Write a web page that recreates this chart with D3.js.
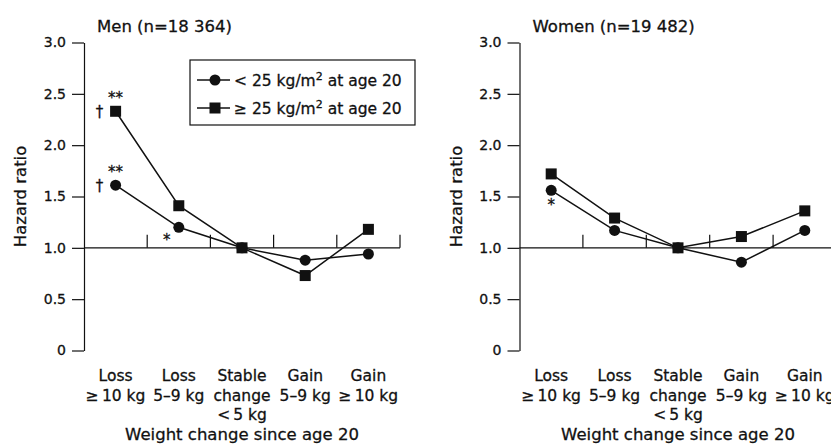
<!DOCTYPE html>
<html>
<head>
<meta charset="utf-8">
<script src="https://cdn.jsdelivr.net/npm/d3@7"></script>
<style>
  body { margin: 0; background: #fff; }
  svg text { font-family: "DejaVu Sans", sans-serif; fill: #111; stroke: #111; stroke-width: 0.3px; }
</style>
</head>
<body>
<script>
// categories along the x axis (one entry per band, lines of the label)
const categories = ['loss10', 'loss5', 'stable', 'gain5', 'gain10'];
const categoryLabels = [
  ['Loss', '\u2265\u200910 kg'],
  ['Loss', '5\u20139 kg'],
  ['Stable', 'change', '<\u20095 kg'],
  ['Gain', '5\u20139 kg'],
  ['Gain', '\u2265\u200910 kg']
];
const yTicks = [0, 0.5, 1.0, 1.5, 2.0, 2.5, 3.0];

// hazard ratios
const menLean = [1.61, 1.20, 1.0, 0.88, 0.94];
const menHeavy = [2.33, 1.41, 1.0, 0.73, 1.18];
const womenLean = [1.56, 1.17, 1.0, 0.86, 1.17];
const womenHeavy = [1.72, 1.29, 1.0, 1.11, 1.36];

// significance marks: [category index, series, symbol, where]
const menMarks = [[0, 'heavy', '**', 'above'], [0, 'heavy', '\u2020', 'left'],
                  [0, 'lean', '**', 'above'], [0, 'lean', '\u2020', 'left'],
                  [1, 'lean', '*', 'belowleft']];
const womenMarks = [[0, 'lean', '*', 'below']];

const width = 831, height = 448;

const svg = d3.select('body').append('svg')
    .attr('width', width)
    .attr('height', height);

const y = d3.scaleLinear().domain([0, 3]).range([350.5, 42.5]);

function panel(title, x0, x1, lean, heavy, marks, showLegend) {
  const x = d3.scaleBand().domain(categories).range([x0, x1]);
  const g = svg.append('g');

  // y axis
  g.append('g')
      .attr('transform', `translate(${x0},0)`)
      .call(d3.axisLeft(y).tickValues(yTicks).tickSize(12).tickSizeOuter(0).tickPadding(6)
        .tickFormat(d => d === 0 ? '0' : d3.format('.1f')(d)))
      .call(a => a.selectAll('text').attr('font-size', 14).attr('font-family', '"DejaVu Sans", sans-serif'))
      .call(a => a.selectAll('line, path').attr('stroke', '#111').attr('stroke-width', 1.2));

  // reference line at 1.0 with band separators
  g.append('line')
      .attr('x1', x0).attr('x2', x1)
      .attr('y1', y(1)).attr('y2', y(1))
      .attr('stroke', '#111').attr('stroke-width', 1.2);
  g.selectAll('.sep')
    .data(categories)
    .enter().append('line')
      .attr('x1', d => x(d) + x.bandwidth()).attr('x2', d => x(d) + x.bandwidth())
      .attr('y1', y(1)).attr('y2', y(1) - 13)
      .attr('stroke', '#111').attr('stroke-width', 1.2);

  // category labels
  const lab = g.append('g').attr('font-size', 15.5).attr('text-anchor', 'middle');
  categories.forEach((c, i) => {
    const t = lab.append('text').attr('x', x(c) + x.bandwidth() / 2).attr('y', 381);
    categoryLabels[i].forEach((s, j) => {
      t.append('tspan').attr('x', x(c) + x.bandwidth() / 2).attr('dy', j === 0 ? 0 : 19.5).text(s);
    });
  });

  g.append('text')
      .attr('x', (x0 + x1) / 2).attr('y', 440)
      .attr('text-anchor', 'middle').attr('font-size', 16.5)
      .text('Weight change since age 20');

  g.append('text')
      .attr('transform', `translate(${x0 - 58},${y(1.5)}) rotate(-90)`)
      .attr('text-anchor', 'middle').attr('font-size', 16.5)
      .text('Hazard ratio');

  g.append('text')
      .attr('x', x0 + 13).attr('y', 32)
      .attr('font-size', 16.5)
      .text(title);

  const cx = d => x(d) + x.bandwidth() / 2;
  const line = d3.line().x(d => cx(d.c)).y(d => y(d.v));
  const rows = s => categories.map((c, i) => ({c: c, v: s[i]}));

  [lean, heavy].forEach(s => {
    g.append('path')
        .datum(rows(s))
        .attr('d', line)
        .attr('fill', 'none')
        .attr('stroke', '#111')
        .attr('stroke-width', 1.5);
  });

  g.selectAll('.sq')
    .data(rows(heavy))
    .enter().append('rect')
      .attr('x', d => cx(d.c) - 5.5).attr('y', d => y(d.v) - 5.5)
      .attr('width', 11).attr('height', 11)
      .attr('fill', '#111');

  g.selectAll('.dot')
    .data(rows(lean))
    .enter().append('circle')
      .attr('cx', d => cx(d.c)).attr('cy', d => y(d.v))
      .attr('r', 5.5)
      .attr('fill', '#111');

  marks.forEach(m => {
    const v = (m[1] === 'lean' ? lean : heavy)[m[0]];
    const px = cx(categories[m[0]]), py = y(v);
    let tx = px, ty = py;
    if (m[3] === 'above') { tx = px; ty = py - 8; }
    if (m[3] === 'left') { tx = px - 16; ty = py + 6; }
    if (m[3] === 'below') { tx = px; ty = py + 20; }
    if (m[3] === 'belowleft') { tx = px - 12; ty = py + 18; }
    g.append('text')
        .attr('x', tx).attr('y', ty)
        .attr('text-anchor', 'middle').attr('font-size', 15)
        .text(m[2]);
  });

  if (showLegend) {
    const lg = g.append('g');
    lg.append('rect')
        .attr('x', 190).attr('y', 60).attr('width', 225).attr('height', 65)
        .attr('fill', '#fff').attr('stroke', '#111').attr('stroke-width', 1.2);
    const items = [['lean', '< 25 kg/m', ' at age 20', 80], ['heavy', '\u2265 25 kg/m', ' at age 20', 108]];
    items.forEach(it => {
      lg.append('line')
          .attr('x1', 197).attr('x2', 230).attr('y1', it[3]).attr('y2', it[3])
          .attr('stroke', '#111').attr('stroke-width', 1.5);
      if (it[0] === 'lean') {
        lg.append('circle').attr('cx', 215).attr('cy', it[3]).attr('r', 5.5).attr('fill', '#111');
      } else {
        lg.append('rect').attr('x', 209.5).attr('y', it[3] - 5.5).attr('width', 11).attr('height', 11).attr('fill', '#111');
      }
      const t = lg.append('text').attr('x', 234).attr('y', it[3] + 6).attr('font-size', 15.5);
      t.append('tspan').text(it[1]);
      t.append('tspan').attr('dy', -6).attr('font-size', 11).text('2');
      t.append('tspan').attr('dy', 6).text(it[2]);
    });
  }
}

panel('Men (n=18 364)', 84, 400, menLean, menHeavy, menMarks, true);
panel('Women (n=19 482)', 519.5, 836.5, womenLean, womenHeavy, womenMarks, false);
</script>
</body>
</html>
